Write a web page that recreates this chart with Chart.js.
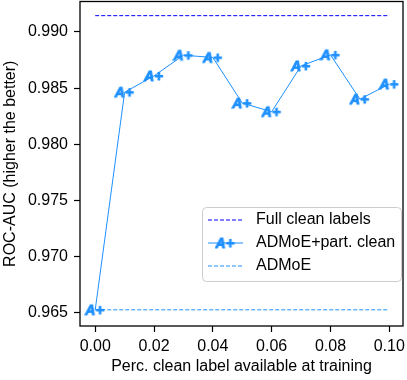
<!DOCTYPE html>
<html><head><meta charset="utf-8">
<script src="https://cdn.jsdelivr.net/npm/chart.js@4"></script>
<style>html,body{margin:0;padding:0;background:#fff}#wrap{width:407px;height:380px}</style>
</head><body><div id="wrap"><canvas id="c" width="407" height="380"></canvas></div>
<script>
const xValues = [0, 0.01, 0.02, 0.03, 0.04, 0.05, 0.06, 0.07, 0.08, 0.09, 0.10];
const partClean = [0.96527, 0.98464, 0.98609, 0.98793, 0.98773, 0.98367, 0.98290, 0.98698, 0.98796, 0.98402, 0.98536];
const fullCleanValue = 0.99145;
const admoeValue = 0.96527;
const lineXRange = [0, 0.10];
const xTicks = [0, 0.02, 0.04, 0.06, 0.08, 0.10];
const yTicks = [0.965, 0.970, 0.975, 0.980, 0.985, 0.990];
const seriesLabels = ['Full clean labels', 'ADMoE+part. clean', 'ADMoE'];

const FONT = '"Liberation Sans", Arial, Helvetica, sans-serif';
const BLUE = '#0000ff';
const DODGER = '#1e90ff';

function makeMarker() {
  const c = document.createElement('canvas');
  c.width = 22; c.height = 16;
  const g = c.getContext('2d');
  g.fillStyle = DODGER;
  g.strokeStyle = DODGER;
  g.lineWidth = 1;
  g.lineJoin = 'round';
  g.textBaseline = 'alphabetic';
  g.font = 'italic bold 14px ' + FONT;
  g.fillText('A', 1, 13);
  g.strokeText('A', 1, 13);
  g.font = 'bold 15px ' + FONT;
  g.fillText('+', 11.5, 13);
  g.strokeText('+', 11.5, 13);
  return c;
}
const marker = makeMarker();

const framePlugin = {
  id: 'frame',
  afterDraw(chart) {
    const {ctx, chartArea: a} = chart;
    ctx.save();
    ctx.strokeStyle = '#000';
    ctx.lineWidth = 1.3;
    ctx.strokeRect(a.left, a.top, a.right - a.left, a.bottom - a.top);
    // legend
    const bx = 202.5, by = 207.5, bw = 199, bh = 74, r = 4;
    ctx.beginPath();
    ctx.moveTo(bx + r, by);
    ctx.arcTo(bx + bw, by, bx + bw, by + bh, r);
    ctx.arcTo(bx + bw, by + bh, bx, by + bh, r);
    ctx.arcTo(bx, by + bh, bx, by, r);
    ctx.arcTo(bx, by, bx + bw, by, r);
    ctx.closePath();
    ctx.fillStyle = 'rgba(255,255,255,0.8)';
    ctx.fill();
    ctx.strokeStyle = '#cccccc';
    ctx.lineWidth = 1;
    ctx.stroke();
    const rows = [220, 243, 266];
    const x0 = 208, x1 = 243;
    ctx.setLineDash([4, 2]);
    ctx.strokeStyle = BLUE; ctx.lineWidth = 1;
    ctx.beginPath(); ctx.moveTo(x0, rows[0]); ctx.lineTo(x1, rows[0]); ctx.stroke();
    ctx.strokeStyle = DODGER;
    ctx.beginPath(); ctx.moveTo(x0, rows[2]); ctx.lineTo(x1, rows[2]); ctx.stroke();
    ctx.setLineDash([]);
    ctx.beginPath(); ctx.moveTo(x0, rows[1]); ctx.lineTo(x1, rows[1]); ctx.stroke();
    ctx.drawImage(marker, (x0 + x1) / 2 - marker.width / 2, rows[1] - marker.height / 2);
    ctx.fillStyle = '#000';
    ctx.font = '16px ' + FONT;
    ctx.textBaseline = 'middle';
    ctx.textAlign = 'left';
    seriesLabels.forEach((t, i) => ctx.fillText(t, 256, rows[i]));
    ctx.restore();
  }
};

const tickFont = {family: FONT, size: 16};

new Chart(document.getElementById('c'), {
  type: 'line',
  data: {
    datasets: [
      {
        label: seriesLabels[0],
        data: lineXRange.map(x => ({x, y: fullCleanValue})),
        borderColor: BLUE, borderWidth: 1, borderDash: [4, 2],
        pointRadius: 0, fill: false
      },
      {
        label: seriesLabels[1],
        data: xValues.map((x, i) => ({x, y: partClean[i]})),
        borderColor: DODGER, borderWidth: 1,
        pointStyle: marker, pointRadius: 8, pointHoverRadius: 8, fill: false
      },
      {
        label: seriesLabels[2],
        data: lineXRange.map(x => ({x, y: admoeValue})),
        borderColor: DODGER, borderWidth: 1, borderDash: [4, 2],
        pointRadius: 0, fill: false
      }
    ]
  },
  options: {
    responsive: false,
    animation: false,
    events: [],
    layout: {autoPadding: false, padding: {top: 1.5, right: 4, left: 0, bottom: 0}},
    plugins: {legend: {display: false}, tooltip: {enabled: false}},
    elements: {line: {tension: 0}},
    scales: {
      x: {
        type: 'linear',
        min: -0.00518, max: 0.10467,
        afterBuildTicks: s => { s.ticks = xTicks.map(v => ({value: v})); },
        afterFit: s => { s.height = 54; s.paddingLeft = 0; s.paddingRight = 0; },
        ticks: {callback: v => v.toFixed(2), font: tickFont, color: '#000', padding: 5, maxRotation: 0, autoSkip: false},
        grid: {drawOnChartArea: false, drawTicks: true, tickLength: 6, color: '#000', tickWidth: 1.2},
        border: {display: false},
        title: {display: true, text: 'Perc. clean label available at training', font: tickFont, color: '#000', padding: {top: 0, bottom: 4}}
      },
      y: {
        type: 'linear',
        min: 0.96383, max: 0.99271,
        afterBuildTicks: s => { s.ticks = yTicks.map(v => ({value: v})); },
        afterFit: s => { s.width = 80; s.paddingTop = 0; s.paddingBottom = 0; },
        ticks: {callback: v => v.toFixed(3), font: tickFont, color: '#000', padding: 6, autoSkip: false},
        grid: {drawOnChartArea: false, drawTicks: true, tickLength: 6, color: '#000', tickWidth: 1.2},
        border: {display: false},
        title: {display: true, text: 'ROC-AUC (higher the better)', font: tickFont, color: '#000', padding: {top: 1, bottom: 0}}
      }
    }
  },
  plugins: [framePlugin]
});
</script>
</body></html>
